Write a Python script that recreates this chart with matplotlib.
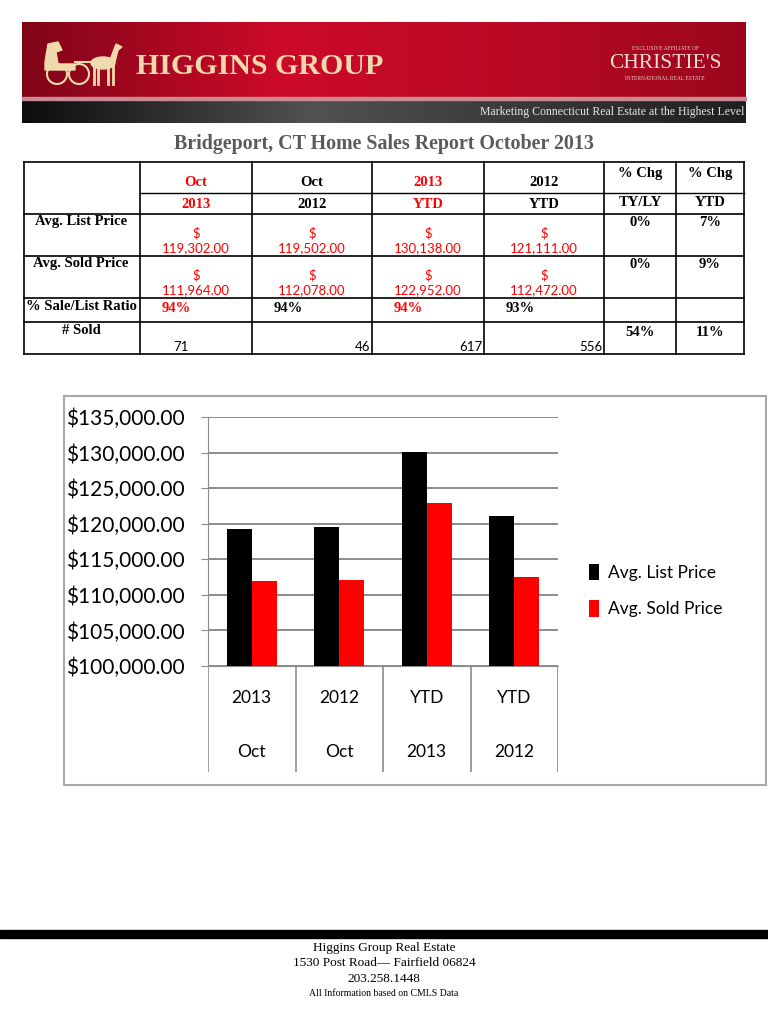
import matplotlib
matplotlib.use('Agg')
import matplotlib.pyplot as plt
import numpy as np
from matplotlib.patches import Rectangle, Circle, Ellipse, Polygon

# datos del informe
top_hdr = ['Oct', 'Oct', '2013', '2012']
sub_hdr = ['2013', '2012', 'YTD', 'YTD']
hdr_rojo = [True, False, True, False]
chg_hdr = ['% Chg', '% Chg']
chg_sub = ['TY/LY', 'YTD']
filas = ['Avg. List Price', 'Avg. Sold Price', '% Sale/List Ratio', '# Sold']
list_price = [119302.00, 119502.00, 130138.00, 121111.00]
sold_price = [111964.00, 112078.00, 122952.00, 112472.00]
ratio = [94, 94, 94, 93]
vendidos = [71, 46, 617, 556]
chg_list = ['0%', '7%']
chg_sold = ['0%', '9%']
chg_vendidos = ['54%', '11%']
series = ['Avg. List Price', 'Avg. Sold Price']
cores = ['#000000', '#ff0000']
yticks = np.arange(100000, 135001, 5000)

W, H = 768, 1024
fig = plt.figure(figsize=(W / 100, H / 100), dpi=100)
fig.patch.set_facecolor('white')

# eje en pixeles para toda la pagina
pg = fig.add_axes([0, 0, 1, 1])
pg.set_xlim(0, W)
pg.set_ylim(H, 0)
pg.axis('off')

# ---- cabecera ----
xs = np.linspace(0, 1, 400)
perfil = np.interp(xs, [0, 0.35, 0.7, 1], [0.0, 1.0, 0.75, 0.35])
c0 = np.array([0.50, 0.02, 0.09])
c1 = np.array([0.80, 0.04, 0.16])
rojo = c0[None, :] + (c1 - c0)[None, :] * perfil[:, None]
pg.imshow(rojo[None, :, :], extent=[22, 746, 98, 22], aspect='auto', zorder=1)
pg.add_patch(Rectangle((22, 97), 724, 3, color='#c98a93', zorder=2))
perfil2 = np.interp(xs, [0, 0.4, 1], [0.05, 0.32, 0.12])
gris = np.repeat(perfil2[:, None], 3, axis=1)
pg.imshow(gris[None, :, :], extent=[22, 746, 123, 100], aspect='auto', zorder=1)
crema = '#efd9ad'
pg.text(136, 66, 'HIGGINS GROUP', family='Liberation Serif', weight='bold', fontsize=21.5,
        color=crema, va='center', ha='left', zorder=3)
pg.text(665, 48, 'EXCLUSIVE AFFILIATE OF', family='Liberation Serif', fontsize=4,
        color='#e8cfc5', ha='center', va='center', zorder=3)
pg.text(665, 64, "CHRISTIE'S", family='Liberation Serif', fontsize=15.5,
        color='#f2dccf', ha='center', va='center', zorder=3)
pg.text(665, 78, 'INTERNATIONAL REAL ESTATE', family='Liberation Serif', fontsize=4,
        color='#e8cfc5', ha='center', va='center', zorder=3)
pg.text(744, 112, 'Marketing Connecticut Real Estate at the Highest Level',
        family='Liberation Serif', fontsize=8.5, color='#e6e6e6', ha='right', va='center',
        zorder=3)
# caballo y carruaje (aprox)
for cx in (57, 79):
    pg.add_patch(Circle((cx, 74), 10, fill=False, ec=crema, lw=1.5, zorder=3))
pg.add_patch(Polygon([[45, 62], [48, 44], [58, 42], [62, 50], [56, 52], [58, 64], [75, 64],
                      [75, 70], [45, 70]], color=crema, zorder=3))
pg.add_patch(Ellipse((103, 63), 24, 12, color=crema, zorder=3))
pg.add_patch(Polygon([[110, 60], [116, 44], [122, 47], [118, 50], [115, 62]], color=crema, zorder=3))
for lx in (94, 98, 108, 113):
    pg.plot([lx, lx], [66, 84], color=crema, lw=2, zorder=3)
pg.plot([75, 92], [62, 62], color=crema, lw=1.5, zorder=3)

# ---- titulo ----
pg.text(384, 144, 'Bridgeport, CT Home Sales Report October 2013', family='Liberation Serif',
        weight='bold', fontsize=14.4, color='#5a5a5a', ha='center', va='center')

# ---- tabla ----
xcol = [24, 140, 252, 372, 484, 604, 676, 744]
yrow = [162, 214, 256, 298, 322, 354]
for y in yrow:
    pg.plot([xcol[0], xcol[-1]], [y, y], color='black', lw=1.2)
pg.plot([xcol[1], xcol[-1]], [193, 193], color='black', lw=1.0)
for x in xcol:
    pg.plot([x, x], [yrow[0], yrow[-1]], color='black', lw=1.2)

serif = dict(family='Liberation Serif', weight='bold', fontsize=10.5, ha='center', va='center')
sans = dict(family='Lato', fontsize=9.5, ha='center', va='center')
for i in range(4):
    cx = (xcol[i + 1] + xcol[i + 2]) / 2
    col = 'red' if hdr_rojo[i] else 'black'
    pg.text(cx, 183, top_hdr[i], color=col, **serif)
    pg.text(cx, 204, sub_hdr[i], color=col, **serif)
    pg.text(cx, 233, '$', color='red', **sans)
    pg.text(cx, 248, f'{list_price[i]:,.2f}', color='red', **sans)
    pg.text(cx, 275, '$', color='red', **sans)
    pg.text(cx, 290, f'{sold_price[i]:,.2f}', color='red', **sans)
    pg.text(xcol[i + 1] + 36, 309, f'{ratio[i]}%', color=col, **serif)
    if i == 0:
        pg.text(xcol[i + 1] + 41, 347, str(vendidos[i]), color='black', **sans)
    else:
        pg.text(xcol[i + 2] - 2, 347, str(vendidos[i]), color='black',
                family='Lato', fontsize=9.5, ha='right', va='center')
for j in range(2):
    cx = (xcol[5 + j] + xcol[6 + j]) / 2
    pg.text(cx, 173, chg_hdr[j], color='black', **serif)
    pg.text(cx, 203, chg_sub[j], color='black', **serif)
    pg.text(cx, 223, chg_list[j], color='black', **serif)
    pg.text(cx, 265, chg_sold[j], color='black', **serif)
    pg.text(cx, 333, chg_vendidos[j], color='black', **serif)
for k, ylab in enumerate([221, 264, 307, 331]):
    pg.text(81, ylab, filas[k], color='black', **serif)

# ---- grafico ----
pg.add_patch(Rectangle((64, 396), 702, 389, fill=False, ec='#a8a8a8', lw=1.5))

x0, x1 = 208, 558
yt, yb = 417, 666
ax = fig.add_axes([x0 / W, 1 - yb / H, (x1 - x0) / W, (yb - yt) / H])
n = len(list_price)
pos = np.arange(n) + 0.5
bw = 0.286
ax.bar(pos - bw / 2, list_price, bw, color=cores[0], label=series[0], zorder=3)
ax.bar(pos + bw / 2, sold_price, bw, color=cores[1], label=series[1], zorder=3)
ax.set_xlim(0, n)
ax.set_ylim(100000, 135000)
ax.set_yticks(yticks)
ax.set_yticklabels([f'${v:,.2f}' for v in yticks], family='Lato', fontsize=15)
ax.set_xticks([])
ax.grid(axis='y', color='#8c8c8c', lw=1.4, zorder=0)
for s in ['top', 'right']:
    ax.spines[s].set_visible(False)
ax.spines['left'].set_color('#8c8c8c')
ax.spines['bottom'].set_color('#8c8c8c')
ax.tick_params(axis='y', length=5, color='#8c8c8c', pad=12)
ax.set_facecolor('none')
leg = ax.legend(loc='upper left', bbox_to_anchor=(573 / W, 1 - 548 / H),
                bbox_transform=fig.transFigure, frameon=False,
                prop={'family': 'Lato', 'size': 12.5}, handlelength=0.6, handleheight=1.1,
                handletextpad=0.5, labelspacing=1.1)

# eje de categorias
cax = fig.add_axes([x0 / W, 1 - 772 / H, (x1 - x0) / W, (772 - yb) / H])
cax.set_xlim(0, n)
cax.set_ylim(772, yb)
cax.axis('off')
for i in range(n + 1):
    cax.plot([i, i], [yb, 772], color='#8c8c8c', lw=1.2)
for i in range(n):
    cax.text(i + 0.5, 698, sub_hdr[i], family='Lato', fontsize=12.5, ha='center', va='center')
    cax.text(i + 0.5, 752, top_hdr[i], family='Lato', fontsize=12.5, ha='center', va='center')

# ---- pie ----
pg.add_patch(Rectangle((0, 930), W, 8, color='black'))
pie = ['Higgins Group Real Estate', '1530 Post Road\u2014 Fairfield 06824', '203.258.1448']
for k, t in enumerate(pie):
    pg.text(384, 948 + 15.5 * k, t, family='Liberation Serif', fontsize=9.5,
            ha='center', va='center')
pg.text(384, 993, 'All Information based on CMLS Data', family='Liberation Serif',
        fontsize=7, ha='center', va='center')

fig.savefig('out.png', dpi=100)
